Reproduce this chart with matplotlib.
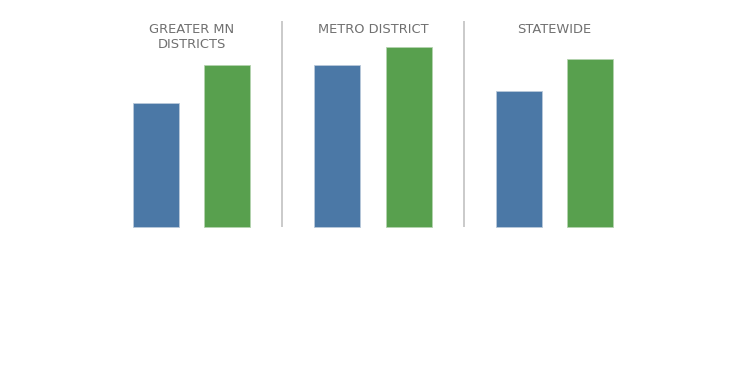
import numpy as np
import matplotlib
matplotlib.use("Agg")
import matplotlib.pyplot as plt
import matplotlib.transforms as mtransforms

# ---------------------------
# Data
# ---------------------------
groups = ["GREATER MN\nDISTRICTS", "METRO DISTRICT", "STATEWIDE"]
series_a = [62, 81, 68]   # blue
series_b = [81, 90, 84]   # green

BLUE = "#4b78a6"
GREEN = "#58a04e"
GRAY_TEXT = "#707070"
SEP = "#c6c6c6"

# ---------------------------
# Figure
# ---------------------------
fig = plt.figure(figsize=(7.52, 3.88), dpi=100)
ax = fig.add_axes([0, 0, 1, 1])

x = np.arange(len(groups))
w = 0.2535
off = 0.197

ax.bar(x - off, series_a, width=w, color=BLUE, edgecolor="#b9c9da", linewidth=0.6)
ax.bar(x + off, series_b, width=w, color=GREEN, edgecolor="#b4d3af", linewidth=0.6)

# separators between groups
for s in x[:-1] + 0.5:
    ax.plot([s, s], [0, 103], color=SEP, linewidth=1.3, solid_capstyle="butt")

# group titles
trans = mtransforms.blended_transform_factory(ax.transData, fig.transFigure)
for xi, g in zip(x, groups):
    ax.text(xi, 1 - 23 / 388, g, transform=trans, ha="center", va="top",
            fontsize=9.4, color=GRAY_TEXT, linespacing=1.22,
            fontfamily="DejaVu Sans")

ax.set_xlim(-191.5 / 181.5, (752 - 191.5) / 181.5)
ax.set_ylim(-160.7 / 2, (388 - 160.7) / 2)
ax.axis("off")

fig.savefig("out.png", dpi=100)
